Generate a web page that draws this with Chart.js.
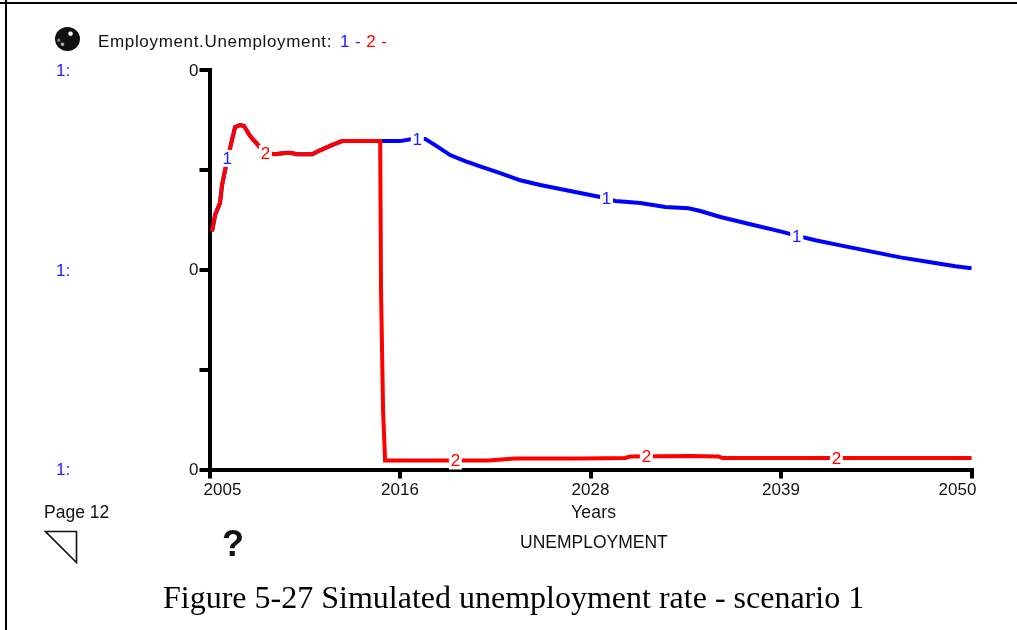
<!DOCTYPE html>
<html><head><meta charset="utf-8">
<script src="https://cdn.jsdelivr.net/npm/chart.js@4/dist/chart.umd.min.js"></script>
<style>
html,body{margin:0;padding:0;background:#fff;overflow:hidden}
#wrap{position:relative;width:1017px;height:630px}
canvas{position:absolute;left:0;top:0}
.t{position:absolute;font-family:"Liberation Sans",Arial,sans-serif;font-size:17px;color:#111;white-space:pre;line-height:18px}
.b{color:#2020ff}.r{color:#ff0000}
#ball{position:absolute;left:55px;top:27px;width:25px;height:24px;border-radius:50%;background:radial-gradient(circle at 62% 28%,#fff 0 7%,transparent 12%),radial-gradient(circle at 30% 72%,#aaa 0 5%,transparent 9%),radial-gradient(circle at 15% 55%,#888 0 4%,transparent 8%),#111}
#hl{position:absolute;left:0;top:2px;width:1017px;height:2px;background:#000}
#vl{position:absolute;left:5px;top:0;width:2px;height:630px;background:#000}
</style></head><body>
<div id="wrap">
<canvas id="c" width="1017" height="630"></canvas>
<div id="hl"></div><div id="vl"></div>
<div id="ball"></div>
<div class="t" style="left:98px;top:33px;font-size:17px;letter-spacing:.66px">Employment.Unemployment:</div>
<div class="t" style="left:340px;top:33px;font-size:17px;letter-spacing:.4px"><span class="b">1</span> <span class="b">-</span> <span class="r">2</span> <span class="r">-</span></div>
<div class="t b" style="left:56px;top:62px">1:</div>
<div class="t b" style="left:56px;top:262px">1:</div>
<div class="t b" style="left:56px;top:461px">1:</div>
<div class="t" style="left:44px;top:503px;font-size:17.5px">Page 12</div>
<svg style="position:absolute;left:44px;top:530px" width="36" height="34"><path d="M1.5 1.5H32.5V32.5Z" fill="none" stroke="#111" stroke-width="1.6"/></svg>
<div class="t" style="left:222px;top:526px;font-size:36px;line-height:36px;font-weight:bold;font-family:'Liberation Sans'">?</div>
<div class="t" style="left:571px;top:503px;font-size:17.5px;letter-spacing:.2px">Years</div>
<div class="t" style="left:520px;top:533px;font-size:17.5px">UNEMPLOYMENT</div>
<div class="t" style="left:163px;top:579px;font-family:'Liberation Serif','Times New Roman',serif;font-size:32px;line-height:36px;color:#000">Figure 5-27 Simulated unemployment rate - scenario 1</div>
</div>
<script>
const series1Years=[2005.15,2005.33,2005.62,2005.74,2005.98,2006.33,2006.51,2006.80,2007.04,2007.39,2007.87,2008.28,2008.87,2009.46,2009.76,2010.17,2011.06,2011.53,2012.12,2012.83,2015.08,2016.26,2016.97,2017.74,2018.33,2019.21,2020.10,2020.98,2022.17,2023.35,2024.53,2025.71,2026.89,2028.07,2028.96,2030.44,2031.92,2033.28,2033.99,2035.17,2036.94,2038.71,2039.60,2040.78,2042.26,2044.03,2045.80,2047.58,2049.05,2050];
const series1Values=[.596,.637,.667,.712,.762,.825,.857,.862,.860,.835,.812,.792,.789,.792,.793,.789,.789,.799,.810,.822,.822,.822,.827,.827,.812,.787,.772,.759,.742,.724,.712,.702,.692,.682,.672,.667,.657,.654,.647,.632,.614,.596,.586,.574,.561,.546,.531,.519,.509,.504];
const series2Years=[2005.15,2005.33,2005.62,2005.74,2005.98,2006.33,2006.51,2006.80,2007.04,2007.39,2007.87,2008.28,2008.87,2009.46,2009.76,2010.17,2011.06,2011.53,2012.12,2012.83,2015.08,2015.13,2015.25,2015.37,2018.03,2021.46,2023.05,2026.89,2029.55,2029.84,2033.40,2035.05,2035.29,2050];
const series2Values=[.596,.637,.667,.712,.762,.825,.857,.862,.860,.835,.812,.792,.789,.792,.793,.789,.789,.799,.810,.822,.822,.449,.148,.0226,.0226,.0226,.0276,.0276,.029,.0326,.0338,.0326,.0288,.0288];
const xTickValues=[2005,2016.25,2027.5,2038.75,2050];
const xTickLabels=['2005','2016','2028','2039','2050'];
const yTickValues=[0,.25,.5,.75,1];
const yTickLabels=['0','','0','','0'];
const marker1Years=[2006.04,2017.27,2028.45,2039.68];
const marker1Values=[.78,.827,.679,.584];
const marker2Years=[2008.3,2019.52,2030.8,2042.02];
const marker2Values=[.792,.0226,.0326,.0288];
const BLUE='#0000ff',RED='#ff0000',INK='#000';
const toXY=(xs,ys)=>xs.map((x,i)=>({x,y:ys[i]}));

const tickNudge={
  id:'tickNudge',
  beforeDraw(chart){
    const s=chart.scales.x,items=s.getLabelItems(chart.chartArea);
    if(items.length&&!s._nudged){
      items[0].options.translation[0]+=13;
      items[items.length-1].options.translation[0]-=14;
      s._nudged=true;
    }
    const sy=chart.scales.y;
    if(!sy._nudged){
      sy.getLabelItems(chart.chartArea).forEach(it=>{it.options.translation[1]+=1;});
      sy._nudged=true;
    }
  }
};
const markers={
  id:'markers',
  afterDatasetsDraw(chart){
    const {ctx,scales:{x,y}}=chart;
    const draw=(xs,ys,txt,col)=>xs.forEach((v,i)=>{
      const px=x.getPixelForValue(v),py=y.getPixelForValue(ys[i]);
      ctx.save();
      ctx.fillStyle='#fff';ctx.fillRect(px-6.5,py-8,13,17);
      ctx.fillStyle=col;ctx.font='17px "Liberation Sans"';ctx.textAlign='center';ctx.textBaseline='middle';
      ctx.fillText(txt,px,py+1);
      ctx.restore();
    });
    draw(marker1Years,marker1Values,'1','#2020ff');
    draw(marker2Years,marker2Values,'2',RED);
  }
};
new Chart(document.getElementById('c'),{
  type:'line',
  data:{datasets:[
    {label:'1',data:toXY(series1Years,series1Values),borderColor:BLUE,borderWidth:4,pointRadius:0,tension:0,order:2,clip:false},
    {label:'2',data:toXY(series2Years,series2Values),borderColor:RED,borderWidth:4,pointRadius:0,tension:0,order:1,clip:false}
  ]},
  options:{
    responsive:false,animation:false,
    layout:{padding:{top:70,right:45.5,left:0,bottom:0}},
    plugins:{legend:{display:false},title:{display:false},tooltip:{enabled:false}},
    scales:{
      x:{type:'linear',min:2005,max:2050,
        afterBuildTicks(s){s.ticks=xTickValues.map(value=>({value}));},
        afterFit(s){s.height=160.5;},
        border:{color:INK,width:4},
        grid:{drawOnChartArea:false,color:INK,lineWidth:4,tickLength:9,drawTicks:true},
        ticks:{autoSkip:false,maxRotation:0,minRotation:0,padding:2,color:'#111',font:{family:'"Liberation Sans"',size:17},
          callback(v,i){return xTickLabels[i];}}
      },
      y:{type:'linear',min:0,max:1,
        afterBuildTicks(s){s.ticks=yTickValues.map(value=>({value}));},
        afterFit(s){s.width=209.5;},
        border:{color:INK,width:4},
        grid:{drawOnChartArea:false,color:INK,lineWidth:4,tickLength:10,drawTicks:true},
        ticks:{autoSkip:false,padding:1,color:'#111',font:{family:'"Liberation Sans"',size:17},
          callback(v,i){return yTickLabels[i];}}
      }
    }
  },
  plugins:[tickNudge,markers]
});
</script>
</body></html>
